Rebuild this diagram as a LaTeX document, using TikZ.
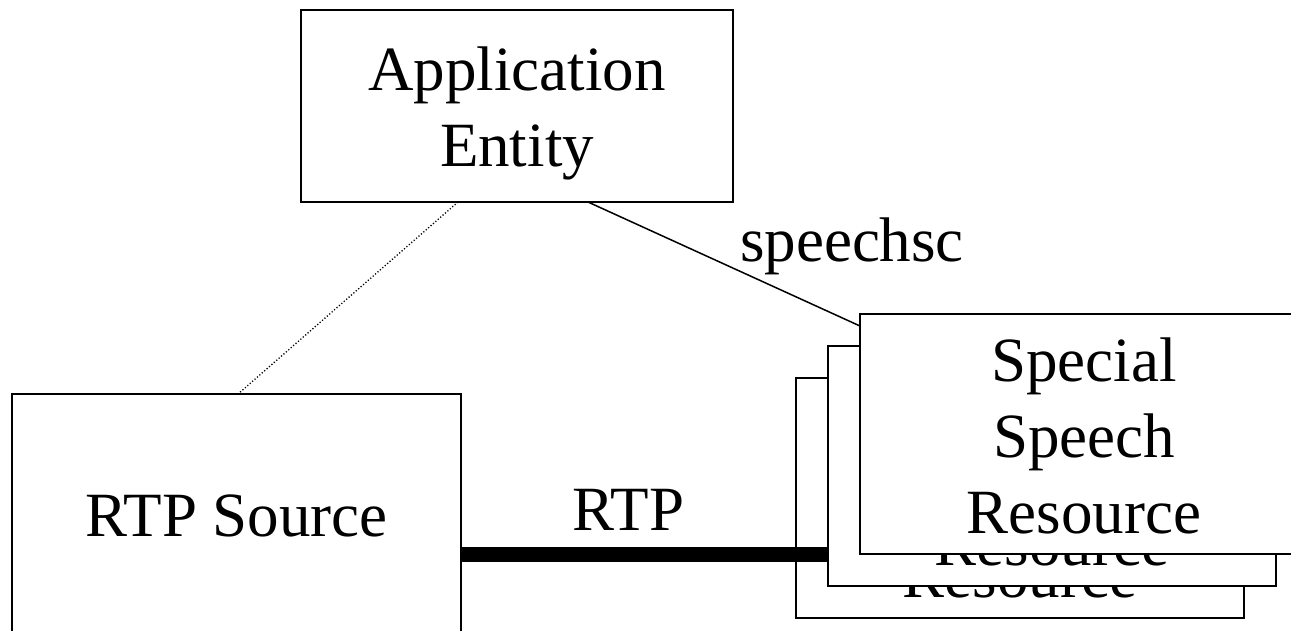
\documentclass[tikz,border=0pt]{standalone}
\usepackage{fontspec}
\setmainfont{Liberation Serif}
\begin{document}
\begin{tikzpicture}[x=1pt,y=-1pt,
  box/.style={draw,line width=1.5pt,fill=white,rectangle,inner sep=0pt,
    minimum width=#1,align=center,font=\fontsize{63}{76}\selectfont},
  lbl/.style={inner sep=0pt,anchor=base,font=\fontsize{63}{76}\selectfont},
  thin/.style={line width=1.5pt},
  dots/.style={line width=1.3pt,dash pattern=on 1.2pt off 2pt},
  thick/.style={line width=15pt}]
\useasboundingbox (0,0) rectangle (1291,630);
\clip (0,0) rectangle (1291,630);
% nodes
\node[box=432pt,minimum height=192pt] (app) at (517,106) {\rule{0pt}{58pt}Application\\Entity};
\node[box=449pt,minimum height=244pt] (src) at (236.5,516) {RTP Source};
% connectors from application entity
\coordinate (d1) at (458,202);
\coordinate (d2) at (238,394);
\draw[dots] (d1) -- (d2);
\coordinate (s1) at (588,202);
\coordinate (s2) at (860,326);
\draw[thin] (s1) -- (s2);
\node[lbl] (lsc) at (852,261) {speechsc};
% stacked resources
\node[box=448pt,minimum height=240pt] (r3) at (1020,498) {\rule{0pt}{48pt}Special\\Speech\\Resource};
\coordinate (t1) at (461,554);
\coordinate (t2) at (828,554);
\draw[thick] (t1) -- (t2);
\node[lbl] (lrtp) at (628.5,530) {RTP};
\node[box=448pt,minimum height=240pt] (r2) at (1052,466) {\rule{0pt}{48pt}Special\\Speech\\Resource};
\node[box=448pt,minimum height=240pt] (r1) at (1084,434) {\rule{0pt}{48pt}Special\\Speech\\Resource};
\end{tikzpicture}
\end{document}
